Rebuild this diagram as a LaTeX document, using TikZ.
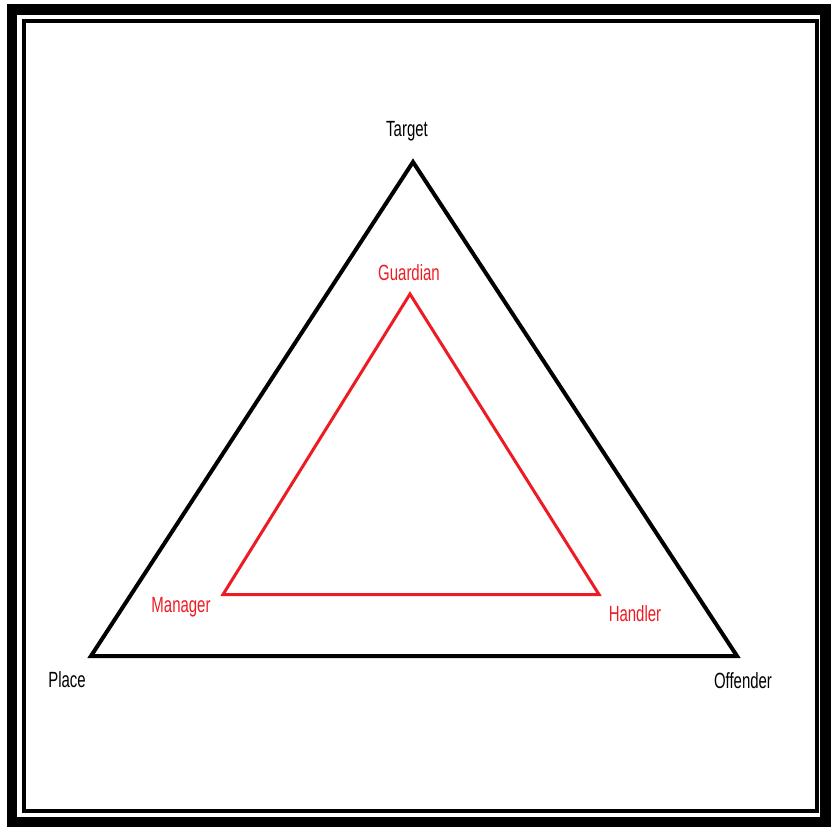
\documentclass[tikz,border=0pt]{standalone}
\usepackage{fontspec}
\setmainfont{Liberation Sans}
\definecolor{paintred}{RGB}{237,28,36}
\tikzset{
  lbl/.style={inner sep=0pt, font=\fontsize{22}{22}\selectfont},
  blacklbl/.style={lbl, text=black},
  redlbl/.style={lbl, text=paintred},
  outertri/.style={draw=black, line width=4pt, line join=miter},
  innertri/.style={draw=paintred, line width=3pt, line join=miter},
  frameA/.style={draw=black, line width=10.5pt},
  frameB/.style={draw=black, line width=4pt}
}
\newcommand{\narrowtxt}[1]{\scalebox{0.68}[1]{#1}}
\begin{document}
\begin{tikzpicture}[x=1pt,y=-1pt]
\useasboundingbox (0,0) rectangle (839,829);
\fill[white] (0,0) rectangle (839,829);
% frames
\draw[frameA] (12,9.5) rectangle (825.5,822);
\draw[frameB] (24,21) rectangle (817,811);
% outer triangle
\coordinate (T) at (413,162);
\coordinate (P) at (91,656);
\coordinate (O) at (737,656);
\draw[outertri] (T) -- (P) -- (O) -- cycle;
% inner triangle
\coordinate (G) at (410,294);
\coordinate (M) at (223,594.5);
\coordinate (H) at (599,594.5);
\draw[innertri] (G) -- (M) -- (H) -- cycle;
% labels
\node[blacklbl] (tT) at (407,131) {\narrowtxt{Target}};
\node[blacklbl] (tP) at (67,680) {\narrowtxt{Place}};
\node[blacklbl] (tO) at (743,681) {\narrowtxt{Offender}};
\node[redlbl] (tG) at (409,273) {\narrowtxt{Guardian}};
\node[redlbl] (tM) at (181,607) {\narrowtxt{Manager}};
\node[redlbl] (tH) at (635,614) {\narrowtxt{Handler}};
\end{tikzpicture}
\end{document}
